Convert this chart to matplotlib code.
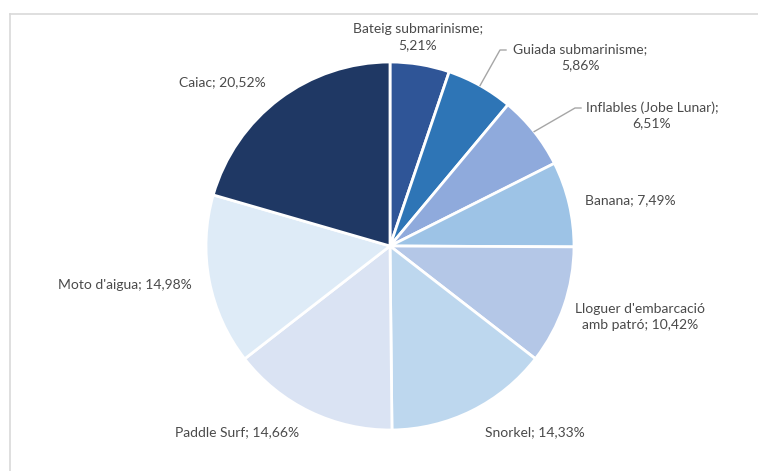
import numpy as np
import matplotlib.pyplot as plt
from matplotlib.lines import Line2D

# activity shares (%)
activitats = ["Bateig submarinisme", "Guiada submarinisme", "Inflables (Jobe Lunar)",
              "Banana", "Lloguer d'embarcació\namb patró", "Snorkel", "Paddle Surf",
              "Moto d'aigua", "Caiac"]
percentatges = [5.21, 5.86, 6.51, 7.49, 10.42, 14.33, 14.66, 14.98, 20.52]
colors = ["#2f5597", "#2e75b6", "#8faadc", "#9dc3e6", "#b4c7e7",
          "#bdd7ee", "#dae3f3", "#deebf7", "#1f3864"]

W, H = 758, 471
cx, cy, r = 390, H - 246, 184

fig = plt.figure(figsize=(W / 100, H / 100), dpi=100)
ax = fig.add_axes([0, 0, 1, 1])

ax.pie(percentatges, colors=colors, startangle=90, counterclock=False,
       center=(cx, cy), radius=r, frame=True,
       wedgeprops=dict(edgecolor="white", linewidth=2))
ax.set_xlim(0, W)
ax.set_ylim(0, H)
ax.set_aspect("equal")
ax.axis("off")

def etiqueta(nom, val):
    txt = f"{val:.2f}%".replace(".", ",")
    # the narrow top slices get the value on its own line
    if nom.endswith("submarinisme") or nom.startswith("Inflables"):
        return f"{nom};\n{txt}"
    return f"{nom}; {txt}"

# label positions (pixel coords, y from top)
pos = [(418, 37), (580, 57), (652, 115), (630, 200), (640, 317),
       (535, 432), (237, 432), (125, 285), (222, 82)]

for nom, val, (px, py) in zip(activitats, percentatges, pos):
    ax.text(px, H - py, etiqueta(nom, val), ha="center", va="center",
            fontsize=10, family="Lato", color="#4a4a4a", linespacing=1.35)

# leader lines for the two narrow slices
cum = np.cumsum([0] + percentatges)
for i, (ex, ey) in [(1, (500, 50)), (2, (575, 108))]:
    mid = (cum[i] + cum[i + 1]) / 2 / 100 * 2 * np.pi
    sx, sy = cx + r * np.sin(mid), cy + r * np.cos(mid)
    ax.plot([sx, ex, ex + 6], [sy, H - ey, H - ey], color="#a6a6a6", lw=1)

# chart frame
fig.add_artist(Line2D([10 / W, 1], [1 - 14 / H, 1 - 14 / H], color="#d9d9d9", lw=1.2,
                      transform=fig.transFigure))
fig.add_artist(Line2D([10 / W, 10 / W], [0, 1 - 14 / H], color="#d9d9d9", lw=1.2,
                      transform=fig.transFigure))

fig.savefig("out.png", dpi=100, facecolor="white")
